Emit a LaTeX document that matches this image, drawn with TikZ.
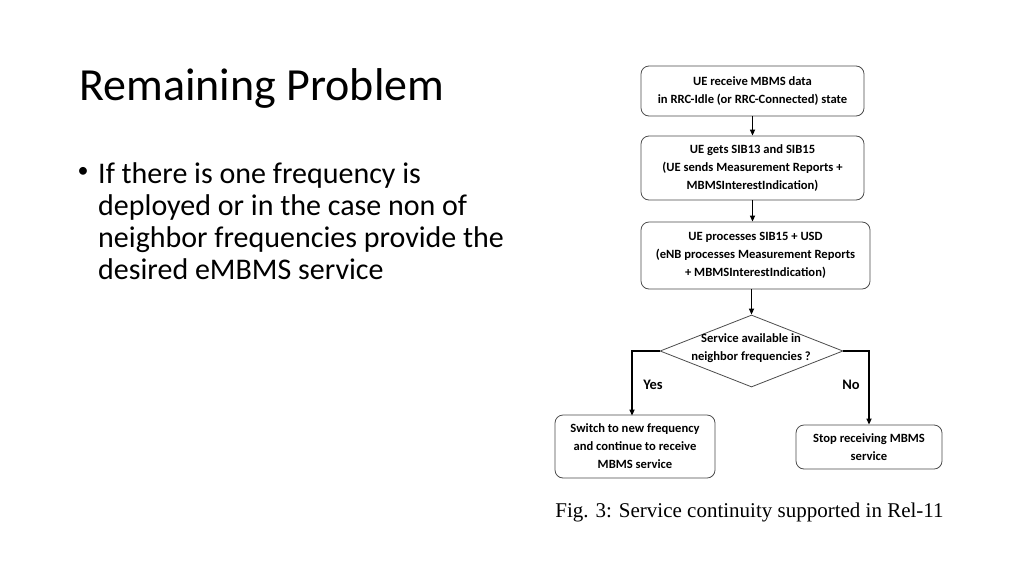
\documentclass[tikz,border=0pt]{standalone}
\usepackage{fontspec}
\setmainfont{Carlito}
\newfontfamily\capfont{Liberation Serif}
\usetikzlibrary{shapes.geometric,arrows.meta}
\begin{document}
\begin{tikzpicture}[x=1pt,y=-1pt,
  box/.style={draw=black!70,line width=0.8pt,rounded corners=8pt,align=center,
    font=\fontsize{12.6}{18}\selectfont\bfseries,inner sep=0pt},
  arr/.style={line width=1.8pt,-{Triangle[length=6pt,width=5pt]}},
  lbl/.style={font=\fontsize{14.5}{16}\selectfont\bfseries}]
\useasboundingbox (0,0) rectangle (1024,576);
\fill[white] (0,0) rectangle (1024,576);
% title and bullet
\node[anchor=base west,inner sep=0pt,font=\fontsize{46}{52}\selectfont] (title) at (79,100) {Remaining Problem};
\node[inner sep=0pt,font=\fontsize{22}{24}\selectfont] (dot) at (83,172) {•};
\node[anchor=base west,inner sep=0pt,align=left,font=\fontsize{30}{32}\selectfont] (bul) at (98,279)
  {If there is one frequency is\\deployed or in the case non of\\neighbor frequencies provide the\\desired eMBMS service};
% flowchart
\node[box,minimum width=223pt,minimum height=50pt] (b1) at (752.5,91)
  {UE receive MBMS data\\in RRC-Idle (or RRC-Connected) state};
\node[box,minimum width=223pt,minimum height=64pt] (b2) at (752.5,168)
  {UE gets SIB13 and SIB15\\(UE sends Measurement Reports +\\MBMSInterestIndication)};
\node[box,minimum width=229pt,minimum height=67pt] (b3) at (755.5,255.5)
  {UE processes SIB15 + USD\\(eNB processes Measurement Reports\\+ MBMSInterestIndication)};
\node[diamond,draw=black!70,line width=0.8pt,minimum width=183pt,minimum height=72pt,inner sep=0pt] (dec) at (751.5,351) {};
\node[align=center,inner sep=0pt,font=\fontsize{12.6}{18}\selectfont\bfseries] (dect) at (751,348) {Service available in\\neighbor frequencies ?};
\node[box,minimum width=160pt,minimum height=63pt] (sw) at (635,446.5)
  {Switch to new frequency\\and continue to receive\\MBMS service};
\node[box,minimum width=146pt,minimum height=44pt] (st) at (869,447)
  {Stop receiving MBMS\\service};
\draw[arr] (b1.south) -- (b1.south |- b2.north);
\draw[arr] (b2.south) -- (b2.south |- b3.north);
\draw[arr] (dec.north |- b3.south) -- (dec.north);
\draw[arr] (dec.west) -| ([xshift=-3pt,yshift=-1pt]sw.north);
\draw[arr] (dec.east) -| (st.north);
\node[lbl] (yes) at (653,385) {Yes};
\node[lbl] (no) at (851,385) {No};
\node[anchor=base,inner sep=0pt,font=\capfont\fontsize{21}{24}\selectfont] (cap) at (749.5,517) {Fig. 3: Service continuity supported in Rel-11};
\end{tikzpicture}
\end{document}
